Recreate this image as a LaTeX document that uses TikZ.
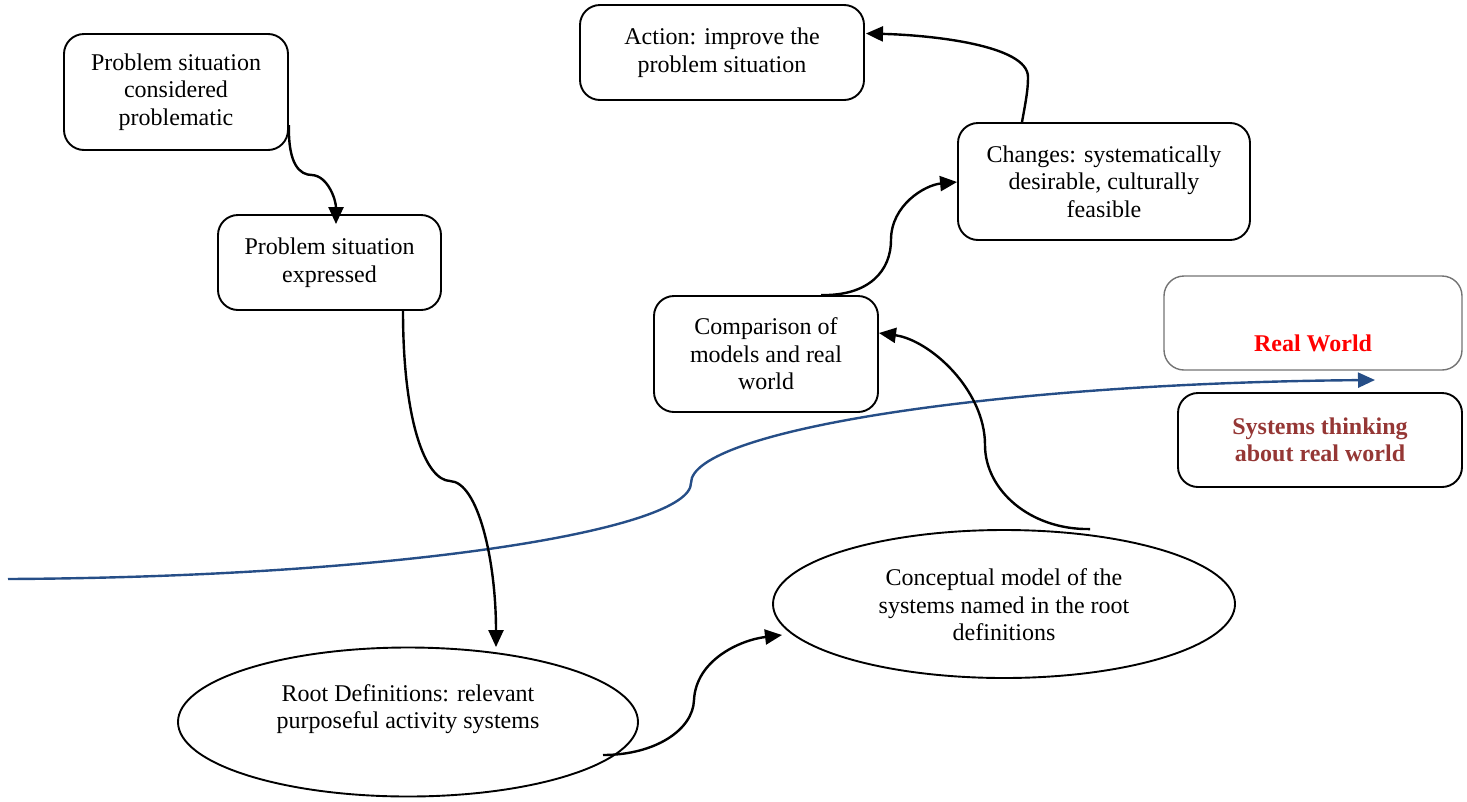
\documentclass[tikz,border=0pt]{standalone}
\usepackage{fontspec}
\setmainfont{Liberation Serif}
\usetikzlibrary{shapes.geometric,arrows.meta,calc}
\definecolor{flowblue}{RGB}{38,78,135}
\definecolor{stred}{RGB}{149,55,53}
\begin{document}
\begin{tikzpicture}[x=1pt,y=-1pt,
  every node/.style={font=\fontsize{24}{27.6}\selectfont, align=center, inner sep=0pt},
  rbox/.style={draw=black, line width=1.9pt, rounded corners=20pt},
  oval/.style={draw=black, line width=1.9pt, ellipse},
  conn/.style={draw=black, line width=2.4pt, -{Triangle[length=17pt,width=15pt]}},
  blueconn/.style={draw=flowblue, line width=2.4pt, -{Triangle[length=17pt,width=15pt]}}]
\useasboundingbox (0,0) rectangle (1467,801);

\node[rbox, minimum width=224pt, minimum height=116pt] (psc) at (176,92) {Problem situation\\considered\\problematic};
\node[rbox, minimum width=223pt, minimum height=95pt] (pse) at (329.5,262.5) {Problem situation\\expressed};
\node[rbox, minimum width=284pt, minimum height=95pt] (act) at (722,52.5) {Action: improve the\\problem situation};
\node[rbox, minimum width=292pt, minimum height=117pt] (chg) at (1104,181.5) {Changes: systematically\\desirable, culturally\\feasible};
\node[rbox, minimum width=224pt, minimum height=116pt] (cmp) at (766,354) {Comparison of\\models and real\\world};
\node[draw=black!55, line width=1.4pt, rounded corners=20pt, minimum width=298pt, minimum height=94pt] (rw) at (1313,323) {};
\node[text=red, font=\fontsize{24}{27.6}\selectfont\bfseries] (rwt) at (1313,343) {Real World};
\node[rbox, minimum width=284pt, minimum height=94pt, text=stred, font=\fontsize{24}{27.6}\selectfont\bfseries] (st) at (1320,440) {Systems thinking\\about real world};
\node[oval, minimum width=462pt, minimum height=148pt] (cm) at (1004,604) {};
\node (cmt) at (1004,605) {Conceptual model of the\\systems named in the root\\definitions};
\node[oval, minimum width=460pt, minimum height=149pt] (rd) at (408,722) {};
\node (rdt) at (408,709) {Root Definitions: relevant\\purposeful activity systems};

% blue boundary
\coordinate (bstart) at (8,579);
\coordinate (bend) at (1375,380);
\draw[blueconn] (bstart) .. controls (400,577) and (691,530) .. (691,483)
  .. controls (691,430) and (1000,383) .. (bend);

% connectors
\draw[conn] ($(psc.east)+(0,33)$) .. controls (288,165) and (300,175) .. (312,175)
  .. controls (328,176) and (336,200) .. ($(pse.north)+(6.5,10)$);
\draw[conn] ($(pse.south)+(73.5,0)$) .. controls (403,420) and (425,480) .. (450,481)
  .. controls (478,482) and (496,560) .. ($(rd.north)+(88,0.5)$);
\draw[conn] ($(rd.center)+(195,33)$) .. controls (655,755) and (693,730) .. (694,700)
  .. controls (696,660) and (740,640) .. ($(cm.center)+(-222,31)$);
\draw[conn] ($(cm.north)+(86,0)$) .. controls (1030,530) and (985,490) .. (985,445)
  .. controls (985,390) and (930,340) .. ($(cmp.east)+(0,-21)$);
\draw[conn] ($(cmp.north)+(55,0)$) .. controls (870,296) and (891,270) .. (891,240)
  .. controls (891,205) and (925,185) .. ($(chg.west)+(0,0.5)$);
\draw[conn] ($(chg.north)+(-82,0)$) .. controls (1026,100) and (1028,90) .. (1028,77)
  .. controls (1028,45) and (930,35) .. ($(act.east)+(1,-19)$);
\end{tikzpicture}
\end{document}
